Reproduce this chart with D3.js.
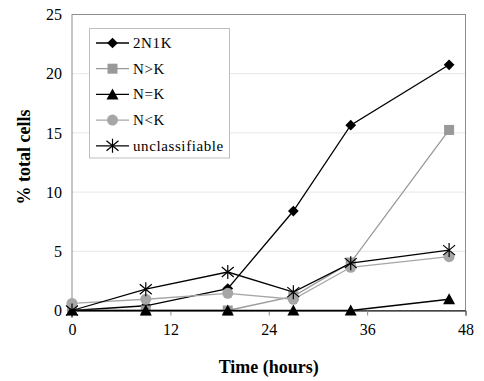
<!DOCTYPE html>
<html>
<head>
<meta charset="utf-8">
<script src="https://cdn.jsdelivr.net/npm/d3@7"></script>
<style>
  body { margin: 0; background: #fff; }
</style>
</head>
<body>
<div id="container"></div>
<script>
/* DATA */
const hours = [0, 9, 19, 27, 34, 46];
const seriesNames = ["2N1K", "N>K", "N=K", "N<K", "unclassifiable"];
const v2N1K = [0, 0.4, 1.85, 8.4, 15.65, 20.75];
const vNgtK = [0, 0, 0, 1.2, 4.05, 15.25];
const vNeqK = [0, 0, 0, 0, 0, 0.95];
const vNltK = [0.6, 0.95, 1.45, 0.95, 3.65, 4.55];
const vUncl = [0, 1.8, 3.25, 1.55, 4.0, 5.1];
const xTicks = [0, 12, 24, 36, 48];
const yTicks = [0, 5, 10, 15, 20, 25];

/* CONSTANTS */
const width = 484, height = 381;
const margin = { top: 14.5, right: 18.5, bottom: 70.5, left: 72 };
const FONT = "'Liberation Serif', 'Times New Roman', Times, serif";

const series = [
  { name: seriesNames[0], values: v2N1K, color: "#000", marker: "diamond" },
  { name: seriesNames[1], values: vNgtK, color: "#999", marker: "square" },
  { name: seriesNames[2], values: vNeqK, color: "#000", marker: "triangle" },
  { name: seriesNames[3], values: vNltK, color: "#a6a6a6", marker: "circle" },
  { name: seriesNames[4], values: vUncl, color: "#000", marker: "asterisk" }
];

const svg = d3.select("#container")
  .append("svg")
  .attr("width", width)
  .attr("height", height)
  .style("font-family", FONT);

// scales
const xScale = d3.scaleLinear()
  .domain([0, 48])
  .range([margin.left, width - margin.right]);

const yScale = d3.scaleLinear()
  .domain([0, 25])
  .range([height - margin.bottom, margin.top]);

// gridlines
svg.append("g")
  .selectAll("line")
  .data(yTicks.slice(1, -1))
  .enter()
  .append("line")
  .attr("x1", xScale(0))
  .attr("x2", xScale(48))
  .attr("y1", d => yScale(d))
  .attr("y2", d => yScale(d))
  .attr("stroke", "#e6e6e6")
  .attr("stroke-width", 1);

// plot frame
svg.append("rect")
  .attr("x", xScale(0))
  .attr("y", yScale(25))
  .attr("width", xScale(48) - xScale(0))
  .attr("height", yScale(0) - yScale(25))
  .attr("fill", "none")
  .attr("stroke", "#8c8c8c")
  .attr("stroke-width", 1);

// axes
const xAxis = d3.axisBottom(xScale).tickValues(xTicks).tickSize(5).tickPadding(8);
const gx = svg.append("g")
  .attr("transform", `translate(0,${yScale(0)})`)
  .call(xAxis);
gx.attr("font-family", null);
gx.select(".domain").attr("stroke", "#000");
gx.selectAll(".tick line").attr("stroke", "#8c8c8c");
gx.selectAll("text").attr("font-size", 16).style("font-family", FONT).attr("fill", "#000");

const yAxis = d3.axisLeft(yScale).tickValues(yTicks).tickSize(0).tickPadding(10);
const gy = svg.append("g")
  .attr("transform", `translate(${xScale(0)},0)`)
  .call(yAxis);
gy.attr("font-family", null);
gy.select(".domain").remove();
gy.selectAll("text").attr("font-size", 16).style("font-family", FONT).attr("fill", "#000");

// axis titles
svg.append("text")
  .attr("x", (xScale(0) + xScale(48)) / 2)
  .attr("y", 373)
  .attr("text-anchor", "middle")
  .attr("font-size", 18)
  .attr("font-weight", "bold")
  .style("font-family", FONT)
  .text("Time (hours)");

svg.append("text")
  .attr("transform", "translate(30,157) rotate(-90)")
  .attr("text-anchor", "middle")
  .attr("font-size", 18)
  .attr("font-weight", "bold")
  .style("font-family", FONT)
  .text("% total cells");

// markers
function drawMarker(g, type, color) {
  if (type === "diamond") {
    g.append("rect").attr("x", -3.8).attr("y", -3.8).attr("width", 7.6).attr("height", 7.6)
      .attr("transform", "rotate(45)").attr("fill", color);
  } else if (type === "square") {
    g.append("rect").attr("x", -5).attr("y", -5).attr("width", 10).attr("height", 10).attr("fill", color);
  } else if (type === "triangle") {
    g.append("path").attr("d", "M0,-6L6,5L-6,5Z").attr("fill", color);
  } else if (type === "circle") {
    g.append("circle").attr("r", 5.5).attr("fill", color);
  } else if (type === "asterisk") {
    g.append("path").attr("d", "M0,-7V7M-6,-5L6,5M-6,5L6,-5")
      .attr("stroke", color).attr("stroke-width", 1.2).attr("fill", "none");
  }
}

const line = d3.line()
  .x((d, i) => xScale(hours[i]))
  .y(d => yScale(d));

series.forEach(s => {
  const g = svg.append("g");
  g.append("path")
    .attr("d", line(s.values))
    .attr("fill", "none")
    .attr("stroke", s.color)
    .attr("stroke-width", 1.3);
  g.selectAll("g.pt")
    .data(s.values)
    .enter()
    .append("g")
    .attr("class", "pt")
    .attr("transform", (d, i) => `translate(${xScale(hours[i])},${yScale(d)})`)
    .each(function () { drawMarker(d3.select(this), s.marker, s.color); });
});

// legend
const legend = svg.append("g");
legend.append("rect")
  .attr("x", 89.5).attr("y", 28.5)
  .attr("width", 140).attr("height", 129.5)
  .attr("fill", "#fff")
  .attr("stroke", "#bfbfbf");

series.forEach((s, i) => {
  const y = 43 + i * 25.7;
  const item = legend.append("g");
  item.append("line")
    .attr("x1", 96).attr("x2", 129)
    .attr("y1", y).attr("y2", y)
    .attr("stroke", s.color).attr("stroke-width", 1.3);
  const m = item.append("g").attr("transform", `translate(112.5,${y})`);
  drawMarker(m, s.marker, s.color);
  item.append("text")
    .attr("x", 133)
    .attr("y", y + 5)
    .attr("font-size", 15)
    .attr("letter-spacing", 0.6)
    .style("font-family", FONT)
    .text(s.name);
});
</script>
</body>
</html>
